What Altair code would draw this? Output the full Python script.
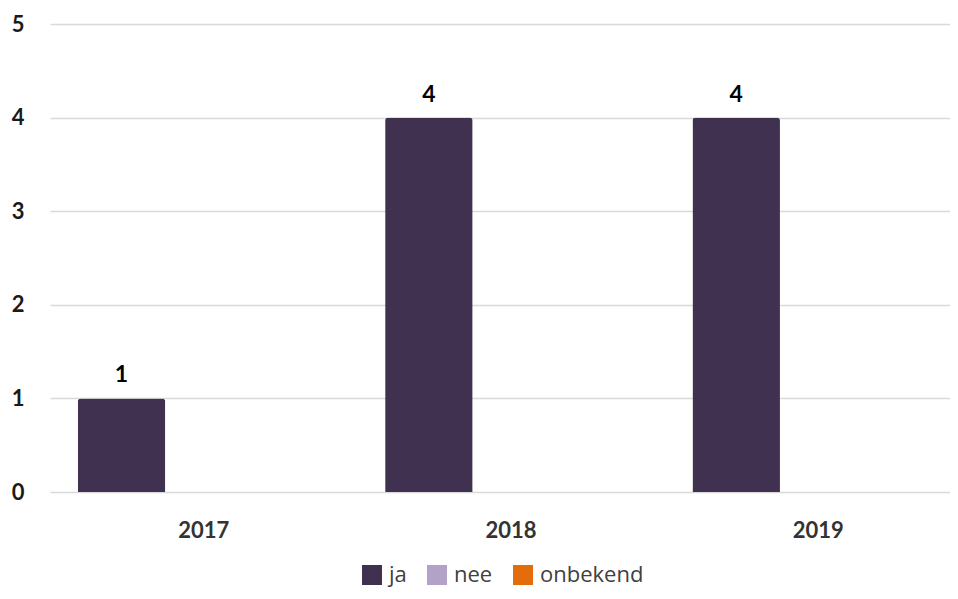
import altair as alt
import pandas as pd

years = ["2017", "2018", "2019"]
series = ["ja", "nee", "onbekend"]
ja = [1, 4, 4]
nee = [0, 0, 0]
onbekend = [0, 0, 0]
colors = ["#403151", "#B3A2C7", "#E46C0A"]
y_ticks = [0, 1, 2, 3, 4, 5]

rows = []
for i, yr in enumerate(years):
    for s, vals in zip(series, [ja, nee, onbekend]):
        rows.append({"jaar": yr, "antwoord": s, "aantal": vals[i]})
df = pd.DataFrame(rows)

x = alt.X(
    "jaar:N",
    sort=years,
    scale=alt.Scale(range=[0, 922], paddingInner=0, paddingOuter=0),
    axis=alt.Axis(
        title=None, labelAngle=0, ticks=False, domain=False, labelPadding=28,
        labelFont="Lato", labelFontSize=22, labelFontWeight="bold", labelColor="#333333",
    ),
)
xo = alt.XOffset(
    "antwoord:N",
    sort=series,
    scale=alt.Scale(domain=series, paddingInner=0, paddingOuter=0.256, align=0.62),
)
y = alt.Y(
    "aantal:Q",
    scale=alt.Scale(domain=[0, 5]),
    axis=alt.Axis(
        title=None, values=y_ticks, format="d", ticks=False, domain=False, grid=True,
        gridColor="#d9d9d9", gridWidth=1.5, labelPadding=26,
        labelFont="Lato", labelFontSize=22, labelFontWeight="bold", labelColor="#1a1a1a",
    ),
)
color = alt.Color(
    "antwoord:N",
    sort=series,
    scale=alt.Scale(domain=series, range=colors),
    legend=alt.Legend(
        title=None, orient="none", direction="horizontal", legendX=311, legendY=540,
        symbolType="square", symbolSize=400, symbolStrokeWidth=0, symbolOpacity=1,
        labelFont="Open Sans", labelFontSize=22, labelColor="#404040",
        labelOffset=6, columnPadding=19,
    ),
)

bars = alt.Chart(df).mark_bar(cornerRadiusTopLeft=3, cornerRadiusTopRight=3).encode(
    x=x, xOffset=xo, y=y, color=color
)
labels = (
    alt.Chart(df)
    .transform_filter("datum.aantal > 0")
    .mark_text(dy=-16, baseline="alphabetic", font="Lato", fontSize=23, fontWeight="bold", color="#000000")
    .encode(x=x, xOffset=xo, y=y, text="aantal:Q")
)

chart = (
    (bars + labels)
    .properties(
        width=900,
        height=468,
        padding={"left": 42, "top": 16, "right": 0, "bottom": 99},
        autosize=alt.AutoSizeParams(type="none"),
    )
    .configure_view(stroke=None)
)

chart.save("out.html", embed_options={"renderer": "svg", "actions": False})
